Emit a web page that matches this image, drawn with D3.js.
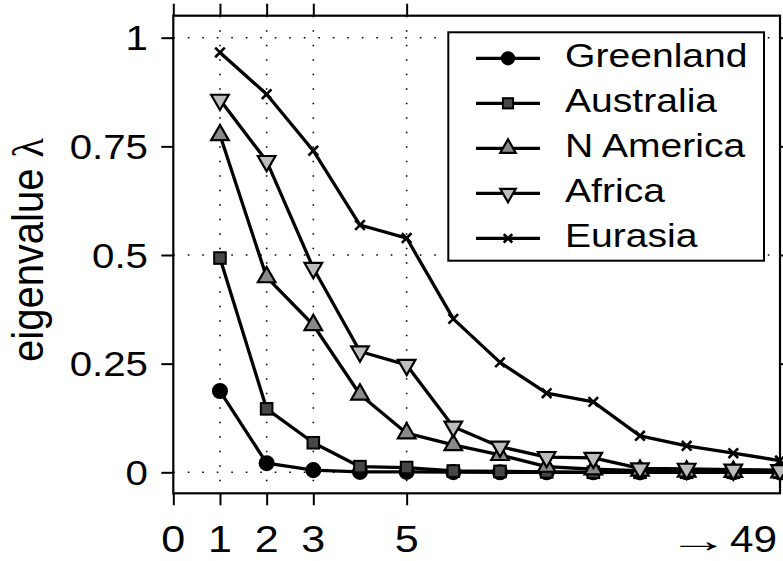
<!DOCTYPE html>
<html>
<head>
<meta charset="utf-8">
<script src="https://cdn.jsdelivr.net/npm/d3@7"></script>
<style>
  html, body { margin: 0; padding: 0; background: #fff; }
  svg { display: block; }
  text { font-family: "Liberation Sans", Arial, Helvetica, sans-serif; fill: #000; }
</style>
</head>
<body>
<svg id="chart" width="783" height="561"></svg>
<script>
// ---------- data ----------
const ranks = [1, 2, 3, 4, 5, 6, 7, 8, 9, 10, 11, 12, 13];
const seriesNames = ["Greenland", "Australia", "N America", "Africa", "Eurasia"];
const greenland = [0.187, 0.021, 0.005, 0.001, 0.001, 0.0005, 0, 0, 0, 0, 0, 0, 0];
const australia = [0.493, 0.146, 0.068, 0.013, 0.011, 0.003, 0.002, 0.001, 0, 0, 0, 0, 0];
const nAmerica  = [0.776, 0.449, 0.339, 0.179, 0.090, 0.063, 0.040, 0.013, 0.007, 0.004, 0.002, 0.001, 0];
const africa    = [0.857, 0.716, 0.470, 0.278, 0.247, 0.105, 0.059, 0.035, 0.033, 0.009, 0.008, 0.006, 0.005];
const eurasia   = [0.966, 0.870, 0.740, 0.569, 0.539, 0.353, 0.253, 0.182, 0.162, 0.084, 0.061, 0.044, 0.027];
const xTickValues = [0, 1, 2, 3, 5];
const xTickLabels = ["0", "1", "2", "3", "5"];
const xEndValue = 13;
const xEndLabel = "49";
const xEndArrow = "→";
const yTickValues = [0, 0.25, 0.5, 0.75, 1];
const yTickLabels = ["0", "0.25", "0.5", "0.75", "1"];
const gridX = [1, 2, 3, 5];
const gridY = [0, 0.5, 1];
const yAxisTitle = "eigenvalue";
const yAxisSymbol = "λ";

// ---------- styling ----------
const seriesStyle = [
  { shape: "circle",  fill: "#000000" },
  { shape: "square",  fill: "#474747" },
  { shape: "triUp",   fill: "#8a8a8a" },
  { shape: "triDown", fill: "#bdbdbd" },
  { shape: "cross",   fill: "none" }
];
const allValues = [greenland, australia, nAmerica, africa, eurasia];
const series = seriesNames.map((name, i) => ({
  name, style: seriesStyle[i],
  pts: ranks.map((r, j) => ({ x: r, y: allValues[i][j] }))
}));

const svg = d3.select("#chart");
const L = 173.3, R = 780, T = 15.7, B = 493.3;
const x = d3.scaleLinear().domain([0, 13]).range([L, R]);
const y = d3.scaleLinear().domain([-0.0483, 1.0506]).range([B, T]);
const TICK = 12;

// grid (dotted)
const grid = svg.append("g").attr("stroke", "#000").attr("stroke-width", 1.6)
  .attr("stroke-dasharray", "1.6 12.9").attr("fill", "none");
grid.selectAll("line.gy").data(gridY).join("line")
  .attr("x1", L).attr("x2", R).attr("y1", d => y(d)).attr("y2", d => y(d));
grid.selectAll("line.gx").data(gridX).join("line")
  .attr("y1", T).attr("y2", B).attr("x1", d => x(d)).attr("x2", d => x(d));

// axes (ticks only, labels drawn separately)
function styleAxis(g) {
  g.select(".domain").remove();
  g.selectAll(".tick line").attr("stroke", "#000").attr("stroke-width", 2);
  g.selectAll(".tick text").remove();
}
svg.append("g").attr("transform", `translate(0,${B})`)
  .call(d3.axisBottom(x).tickValues(xTickValues).tickSize(TICK).tickSizeOuter(0)).call(styleAxis);
svg.append("g").attr("transform", `translate(0,${T})`)
  .call(d3.axisTop(x).tickValues(xTickValues).tickSize(TICK).tickSizeOuter(0)).call(styleAxis);
svg.append("g").attr("transform", `translate(${L},0)`)
  .call(d3.axisLeft(y).tickValues(yTickValues).tickSize(TICK).tickSizeOuter(0)).call(styleAxis);
svg.append("g").attr("transform", `translate(${R},0)`)
  .call(d3.axisRight(y).tickValues(yTickValues).tickSize(TICK).tickSizeOuter(0)).call(styleAxis);

// box
svg.append("rect").attr("x", L).attr("y", T).attr("width", R - L).attr("height", B - T)
  .attr("fill", "none").attr("stroke", "#000").attr("stroke-width", 2.2);

// tick labels
const SX = 1.15;
const XBASE = 551.8;
svg.append("g").selectAll("text").data(yTickValues).join("text")
  .attr("transform", d => `translate(148,${y(d) + 12.6}) scale(${SX},1)`)
  .attr("text-anchor", "end").attr("font-size", 35)
  .text((d, i) => yTickLabels[i]);
svg.append("g").selectAll("text").data(xTickValues).join("text")
  .attr("transform", d => `translate(${x(d)},${XBASE}) scale(1.18,1)`)
  .attr("text-anchor", "middle").attr("font-size", 36.5)
  .text((d, i) => xTickLabels[i]);
svg.append("text")
  .attr("transform", `translate(${x(xEndValue) - 3},${XBASE}) scale(1.16,1)`)
  .attr("text-anchor", "end").attr("font-size", 36.5)
  .text(xEndLabel);
svg.append("text")
  .attr("transform", `translate(${x(xEndValue) - 51},552.3) scale(1.8,1)`)
  .attr("text-anchor", "end").attr("font-family", "DejaVu Sans").attr("font-size", 34)
  .text(xEndArrow);

// y axis title
const yt = svg.append("text")
  .attr("transform", `translate(43,250) rotate(-90) scale(1,1.12)`)
  .attr("text-anchor", "middle").attr("font-size", 40);
yt.append("tspan").text(yAxisTitle + " ");
yt.append("tspan").attr("font-family", "Liberation Serif").attr("font-size", 40).text(yAxisSymbol);

// marker drawing
function drawMarker(sel, style, size) {
  const s = size;
  if (style.shape === "circle") {
    sel.append("circle").attr("r", 7.3 * s).attr("fill", style.fill).attr("stroke", "#000").attr("stroke-width", 1.5);
  } else if (style.shape === "square") {
    const h = 5.8 * s;
    sel.append("rect").attr("x", -h).attr("y", -h).attr("width", 2 * h).attr("height", 2 * h)
      .attr("fill", style.fill).attr("stroke", "#000").attr("stroke-width", 2);
  } else if (style.shape === "triUp" || style.shape === "triDown") {
    const r = 10.2 * s, xc = 8.8 * s, yc = 5.1 * s;
    const sg = style.shape === "triUp" ? 1 : -1;
    const p = [[0, -sg * r], [xc, sg * yc], [-xc, sg * yc]];
    sel.append("path").attr("d", "M" + p.map(q => q.join(",")).join("L") + "Z")
      .attr("fill", style.fill).attr("stroke", "#000").attr("stroke-width", 2.2).attr("stroke-linejoin", "miter");
  } else if (style.shape === "cross") {
    const h = 4.8 * s;
    sel.append("path").attr("d", `M${-h},${-h}L${h},${h}M${-h},${h}L${h},${-h}`)
      .attr("stroke", "#000").attr("stroke-width", 2.6).attr("fill", "none");
  }
}

// series
const line = d3.line().x(d => x(d.x)).y(d => y(d.y));
series.forEach(s => {
  const g = svg.append("g");
  g.append("path").attr("d", line(s.pts)).attr("fill", "none")
    .attr("stroke", "#000").attr("stroke-width", 3.3).attr("stroke-linejoin", "round");
  g.selectAll("g.m").data(s.pts).join("g")
    .attr("transform", d => `translate(${x(d.x)},${y(d.y)})`)
    .each(function () { drawMarker(d3.select(this), s.style, 1); });
});

// legend
const lg = svg.append("g");
lg.append("rect").attr("x", 448.3).attr("y", 32.3).attr("width", 764 - 448.3).attr("height", 260.7 - 32.3)
  .attr("fill", "#fff").attr("stroke", "#000").attr("stroke-width", 2);
const rowY = d3.scaleLinear().domain([0, 4]).range([58.3, 238.3]);
series.forEach((s, i) => {
  const yy = rowY(i);
  lg.append("line").attr("x1", 476).attr("x2", 540).attr("y1", yy).attr("y2", yy)
    .attr("stroke", "#000").attr("stroke-width", 3.3);
  const m = lg.append("g").attr("transform", `translate(508,${yy})`);
  drawMarker(m, s.style, 0.88);
  lg.append("text").attr("transform", `translate(565,${yy + 8.8}) scale(${SX},1)`)
    .attr("font-size", 34).text(s.name);
});
</script>
</body>
</html>
